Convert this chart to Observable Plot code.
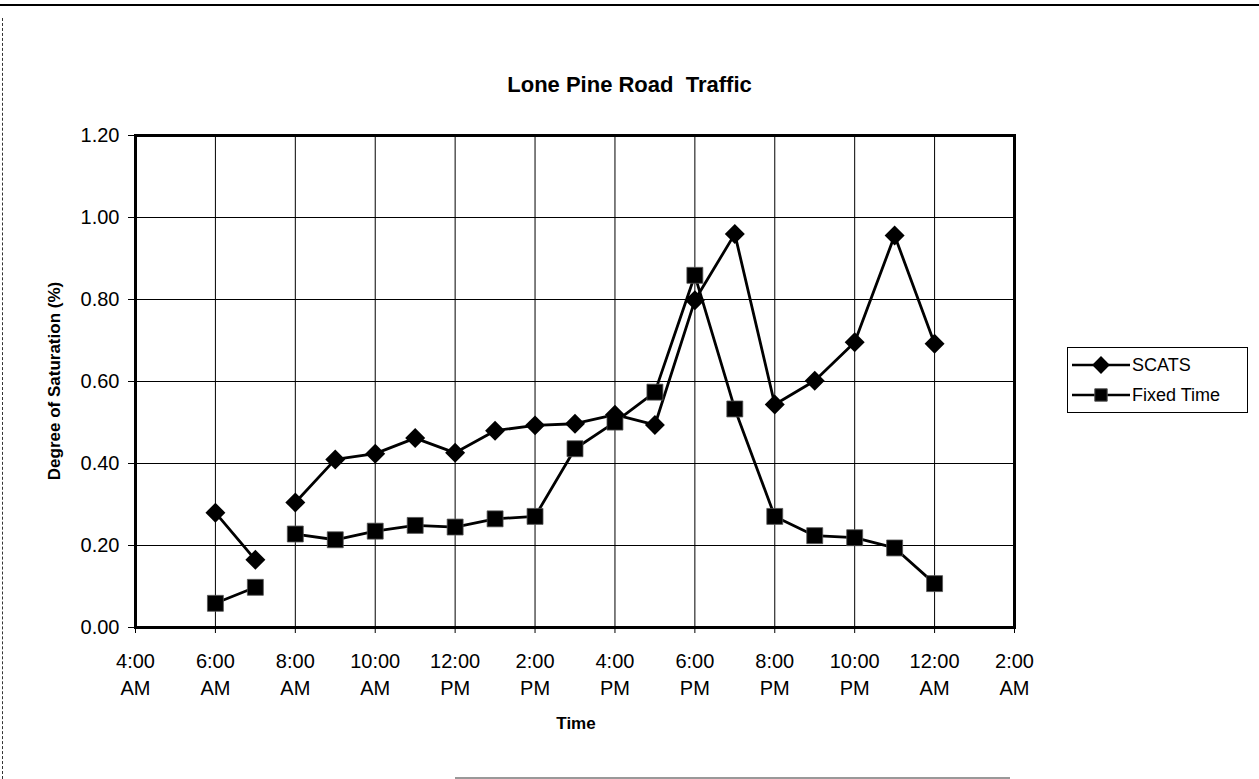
<!DOCTYPE html>
<html>
<head>
<meta charset="utf-8">
<script src="https://cdn.jsdelivr.net/npm/d3@7"></script>
<script src="https://cdn.jsdelivr.net/npm/@observablehq/plot@0.6"></script>
<style>
  html, body { margin: 0; padding: 0; background: #fff; }
  body { width: 1259px; height: 779px; overflow: hidden; position: relative; font-family: "Liberation Sans", Arial, sans-serif; }
  #chart { position: absolute; left: 0; top: 0; }
  .title { position: absolute; left: 0; width: 1259px; top: 72px; text-align: center; font-weight: bold; font-size: 22px; }
  .xlabel { position: absolute; left: 476px; width: 200px; top: 714px; text-align: center; font-weight: bold; font-size: 17px; }
  .ylabel { position: absolute; left: 55px; top: 381px; transform: translate(-50%, -50%) rotate(-90deg); white-space: nowrap; font-weight: bold; font-size: 17px; }
  .legend { position: absolute; left: 1067px; top: 347px; width: 181px; height: 66px; border: 1px solid #000; box-sizing: border-box; font-size: 18px; }
  .legend .row { display: flex; align-items: center; height: 26px; margin-top: 4px; }
  .legend svg { margin-left: 4px; margin-right: 2px; }
  .pageTop { position: absolute; left: 0; top: 4px; width: 1259px; height: 0; border-top: 2px solid #000; }
  .pageLeft { position: absolute; left: 2px; top: 18px; height: 761px; width: 0; border-left: 1px dashed #333; }
  .pageBottom { position: absolute; left: 455px; top: 777px; width: 555px; height: 0; border-top: 2px solid #999; }
</style>
</head>
<body>
<div class="pageTop"></div>
<div class="pageLeft"></div>
<div class="pageBottom"></div>
<div id="chart"></div>
<div class="title">Lone Pine Road&nbsp;&nbsp;Traffic</div>
<div class="xlabel">Time</div>
<div class="ylabel">Degree of Saturation (%)</div>
<div class="legend" id="legend"></div>
<script>
// Hours of day (24 = midnight); null values break the lines (data gap after 7 AM)
const hours = [6, 7, 7.5, 8, 9, 10, 11, 12, 13, 14, 15, 16, 17, 18, 19, 20, 21, 22, 23, 24];
const scats = [0.28, 0.165, null, 0.305, 0.41, 0.424, 0.462, 0.426, 0.48, 0.493, 0.497, 0.519, 0.494, 0.798, 0.96, 0.544, 0.602, 0.696, 0.956, 0.692];
const fixedTime = [0.059, 0.098, null, 0.228, 0.214, 0.235, 0.249, 0.245, 0.265, 0.271, 0.436, 0.501, 0.574, 0.859, 0.533, 0.271, 0.224, 0.219, 0.194, 0.107];

const seriesNames = ["SCATS", "Fixed Time"];

const xTicks = [4, 6, 8, 10, 12, 14, 16, 18, 20, 22, 24, 26];
const xTickLabels = ["4:00\nAM", "6:00\nAM", "8:00\nAM", "10:00\nAM", "12:00\nPM", "2:00\nPM", "4:00\nPM", "6:00\nPM", "8:00\nPM", "10:00\nPM", "12:00\nAM", "2:00\nAM"];
const yTicks = [0, 0.2, 0.4, 0.6, 0.8, 1.0, 1.2];

const rows = [];
[scats, fixedTime].forEach((vals, s) => {
  hours.forEach((h, i) => rows.push({hour: h, value: vals[i], series: seriesNames[s]}));
});
const scatsRows = rows.filter(d => d.series === "SCATS");
const fixedRows = rows.filter(d => d.series === "Fixed Time");

const chart = Plot.plot({
  width: 1259,
  height: 779,
  marginLeft: 135,
  marginRight: 245,
  marginTop: 135,
  marginBottom: 152,
  style: {fontFamily: "'Liberation Sans', Arial, sans-serif", background: "transparent", color: "#000"},
  x: {domain: [4, 26]},
  y: {domain: [0, 1.2]},
  marks: [
    Plot.gridX(xTicks, {stroke: "#000", strokeOpacity: 1, strokeWidth: 1}),
    Plot.gridY(yTicks, {stroke: "#000", strokeOpacity: 1, strokeWidth: 1}),
    Plot.axisX({ticks: xTicks, tickFormat: (d) => xTickLabels[xTicks.indexOf(d)], fontSize: 20, lineHeight: 1.35, tickSize: 6, tickPadding: 15, label: null}),
    Plot.axisY({ticks: yTicks, tickFormat: d3.format(".2f"), fontSize: 20, tickSize: 7, tickPadding: 9, label: null}),
    Plot.frame({stroke: "#000", strokeWidth: 3}),
    Plot.line(fixedRows, {x: "hour", y: "value", stroke: "#000", strokeWidth: 2.8}),
    Plot.line(scatsRows, {x: "hour", y: "value", stroke: "#000", strokeWidth: 2.8}),
    Plot.dot(fixedRows.filter(d => d.value != null), {x: "hour", y: "value", symbol: "square", r: 9, fill: "#000", stroke: "#555", strokeWidth: 0.8}),
    Plot.dot(scatsRows.filter(d => d.value != null), {x: "hour", y: "value", symbol: "diamond2", r: 9, fill: "#000", stroke: "none"})
  ]
});
document.getElementById("chart").appendChild(chart);

// Legend
const legend = d3.select("#legend");
seriesNames.forEach((name, i) => {
  const row = legend.append("div").attr("class", "row");
  const svg = row.append("svg").attr("width", 58).attr("height", 20);
  svg.append("line").attr("x1", 0).attr("x2", 58).attr("y1", 10).attr("y2", 10).attr("stroke", "#000").attr("stroke-width", 2.5);
  const sym = d3.symbol().type(i === 0 ? d3.symbolDiamond2 : d3.symbolSquare).size(i === 0 ? Math.PI * 64 : Math.PI * 49);
  svg.append("path").attr("d", sym()).attr("transform", "translate(29,10)").attr("fill", "#000").attr("stroke", i === 1 ? "#555" : "none");
  row.append("span").text(name);
});
</script>
</body>
</html>
